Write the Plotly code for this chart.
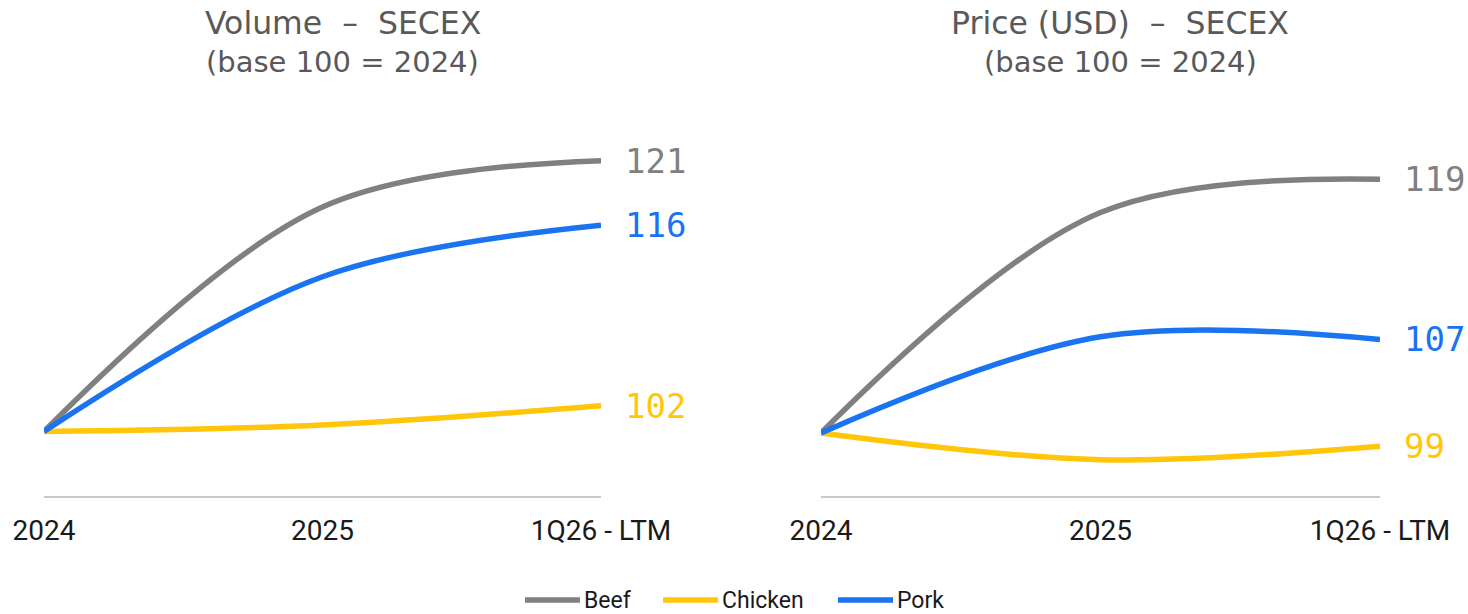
import plotly.graph_objects as go

# Index values (base 100 = 2024)
periods = ["2024", "2025", "1Q26 - LTM"]
series_names = ["Beef", "Chicken", "Pork"]

volume_beef = [100, 117.4, 121]
volume_chicken = [100, 100.5, 102]
volume_pork = [100, 112.0, 116]

price_beef = [100, 116.5, 119]
price_chicken = [100, 98.0, 99]
price_pork = [100, 107.2, 107]

colors = {"Beef": "#808080", "Chicken": "#FFC60A", "Pork": "#1A73F0"}

panels = [
    ("Volume  –  SECEX", {"Beef": volume_beef, "Chicken": volume_chicken, "Pork": volume_pork}),
    ("Price (USD)  –  SECEX", {"Beef": price_beef, "Chicken": price_chicken, "Pork": price_pork}),
]

W, H = 1468, 614
x_domains = [[44 / W, 601 / W], [821 / W, 1380 / W]]
y_domain = [1 - 496 / H, 1 - 120 / H]
y_ranges = [[95.0, 124.15], [95.28, 123.43]]

fig = go.Figure()
xpos = list(range(len(periods)))

annotations = []
shapes = []
for i, (title, data) in enumerate(panels):
    xa = "x" if i == 0 else "x2"
    ya = "y" if i == 0 else "y2"
    for name in series_names:
        vals = data[name]
        fig.add_trace(go.Scatter(
            x=xpos, y=vals, mode="lines", name=name,
            line=dict(color=colors[name], width=5.5, shape="spline", smoothing=1.0),
            xaxis=xa, yaxis=ya, cliponaxis=False,
            showlegend=False, hoverinfo="skip",
        ))
        annotations.append(dict(
            x=xpos[-1], y=vals[-1], xref=xa, yref=ya,
            text=f"{vals[-1]:.0f}", showarrow=False,
            xanchor="left", yanchor="middle", xshift=22,
            font=dict(family="DejaVu Sans Mono", size=34, color=colors[name]),
        ))
    # panel heading, centred slightly right of the plot area
    cx = (x_domains[i][0] + x_domains[i][1]) / 2 + 20 / W
    annotations.append(dict(
        x=cx, y=1 - 23 / H, xref="paper", yref="paper", text=title,
        showarrow=False, xanchor="center", yanchor="middle",
        font=dict(family="DejaVu Sans", size=31.5, color="#595959"),
    ))
    annotations.append(dict(
        x=cx, y=1 - 62 / H, xref="paper", yref="paper", text="(base 100 = 2024)",
        showarrow=False, xanchor="center", yanchor="middle",
        font=dict(family="DejaVu Sans", size=29, color="#595959"),
    ))

# Legend drawn as line swatches with text labels along the bottom
legend_y = 1 - 600 / H
legend_x0 = [525, 663, 838]
swatch_len = 55
for name, x0 in zip(series_names, legend_x0):
    shapes.append(dict(
        type="line", xref="paper", yref="paper",
        x0=x0 / W, x1=(x0 + swatch_len) / W, y0=legend_y, y1=legend_y,
        line=dict(color=colors[name], width=5.5),
    ))
    annotations.append(dict(
        x=(x0 + swatch_len + 2) / W, y=legend_y, xref="paper", yref="paper",
        text=name, showarrow=False, xanchor="left", yanchor="middle",
        font=dict(family="Roboto", size=23, color="#1A1A1A"),
    ))

axis_x = dict(
    range=[0, 2], tickvals=xpos, ticktext=periods, showgrid=False, zeroline=False,
    showline=True, linecolor="#C8C8C8", linewidth=2, ticks="",
    tickfont=dict(family="Roboto", size=28, color="#1A1A1A"),
    ticklabelstandoff=8, fixedrange=True, automargin=False,
)
axis_y = dict(visible=False, showgrid=False, zeroline=False, fixedrange=True,
              domain=y_domain, automargin=False)

fig.update_layout(
    width=W, height=H,
    margin=dict(l=0, r=0, t=0, b=0),
    paper_bgcolor="white", plot_bgcolor="white",
    xaxis=dict(axis_x, domain=x_domains[0], anchor="y"),
    xaxis2=dict(axis_x, domain=x_domains[1], anchor="y2"),
    yaxis=dict(axis_y, range=y_ranges[0], anchor="x"),
    yaxis2=dict(axis_y, range=y_ranges[1], anchor="x2"),
    annotations=annotations,
    shapes=shapes,
    showlegend=False,
)

fig.write_html("out.html")
